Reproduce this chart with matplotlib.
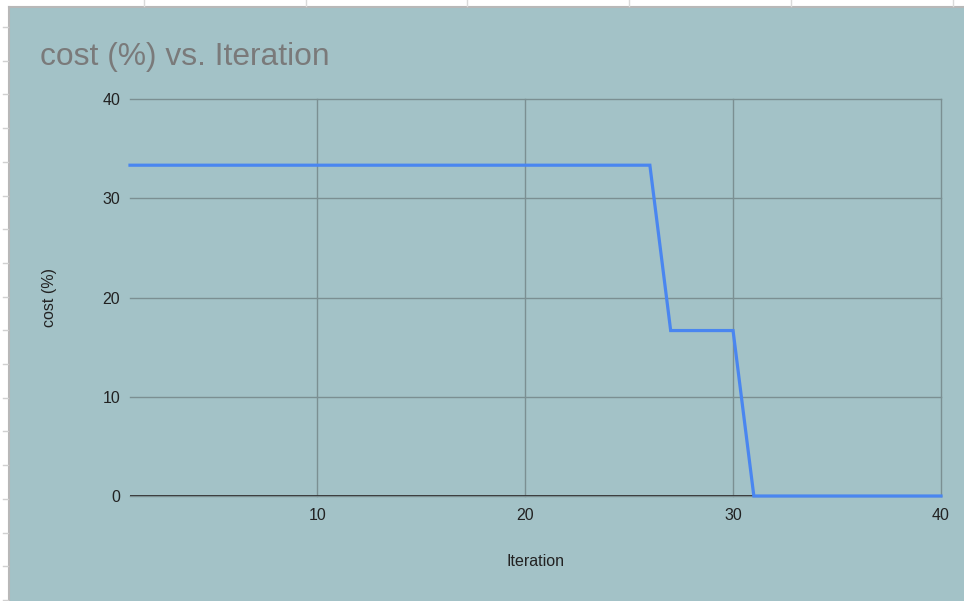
import matplotlib.pyplot as plt
from matplotlib.patches import Rectangle
from matplotlib.lines import Line2D

iteration = list(range(1, 41))
cost = [33.33] * 26 + [16.67] * 4 + [0.0] * 10

x_ticks = [10, 20, 30, 40]
y_ticks = [0, 10, 20, 30, 40]

BG = "#a3c2c7"
GRID = "#7b8f92"
BLUE = "#4a86f0"
W, H = 964, 601

plt.rcParams['font.family'] = ['Liberation Sans', 'DejaVu Sans']

fig = plt.figure(figsize=(W / 100, H / 100), dpi=100, facecolor="white")

# chart card sitting on the sheet
fig.patches.append(Rectangle((9 / W, 0), 1, (H - 8) / H, transform=fig.transFigure,
                             facecolor=BG, edgecolor="none", zorder=-5))
fig.add_artist(Line2D([9 / W, 9 / W], [0, (H - 7) / H], color="#b8b8b8", lw=1.5, zorder=-4))
fig.add_artist(Line2D([9 / W, 1], [(H - 7) / H, (H - 7) / H], color="#b8b8b8", lw=1.5, zorder=-4))

# sheet cell marks peeking out around the card
for px in [144, 306, 467, 629, 791, 953]:
    fig.add_artist(Line2D([px / W, px / W], [(H - 6) / H, 1], color="#dadada", lw=1, zorder=-4))
for k in range(18):
    py = 27 + 33.7 * k
    fig.add_artist(Line2D([3 / W, 8 / W], [(H - py) / H, (H - py) / H], color="#d0d0d0", lw=1, zorder=-4))

ax = fig.add_axes([130 / W, (H - 496) / H, (941 - 130) / W, (496 - 99) / H])
ax.set_zorder(2)
ax.patch.set_alpha(0)

ax.plot(iteration, cost, color=BLUE, lw=2.3, solid_joinstyle="miter", zorder=3, clip_on=False)

ax.set_xlim(1, 40)
ax.set_ylim(0, 40)
ax.set_xticks(x_ticks)
ax.set_yticks(y_ticks)
ax.grid(True, color=GRID, lw=1)
for gl in ax.get_xgridlines() + ax.get_ygridlines():
    gl.set_clip_on(False)
ax.axhline(0, color="#333333", lw=1.3, zorder=2)
for s in ax.spines.values():
    s.set_visible(False)
ax.tick_params(length=0, labelsize=11.5, colors="#222222")
ax.tick_params(axis="x", pad=9)
ax.tick_params(axis="y", pad=7)

ax.set_xlabel("Iteration", fontsize=11.5, color="#222222", labelpad=22)
ax.set_ylabel("cost (%)", fontsize=11.5, color="#222222", labelpad=33)

fig.text(40 / W, (H - 65) / H, "cost (%) vs. Iteration", fontsize=22.9, color="#7a7a7a",
         ha="left", va="baseline")

fig.savefig("out.png", dpi=100, facecolor="white")
